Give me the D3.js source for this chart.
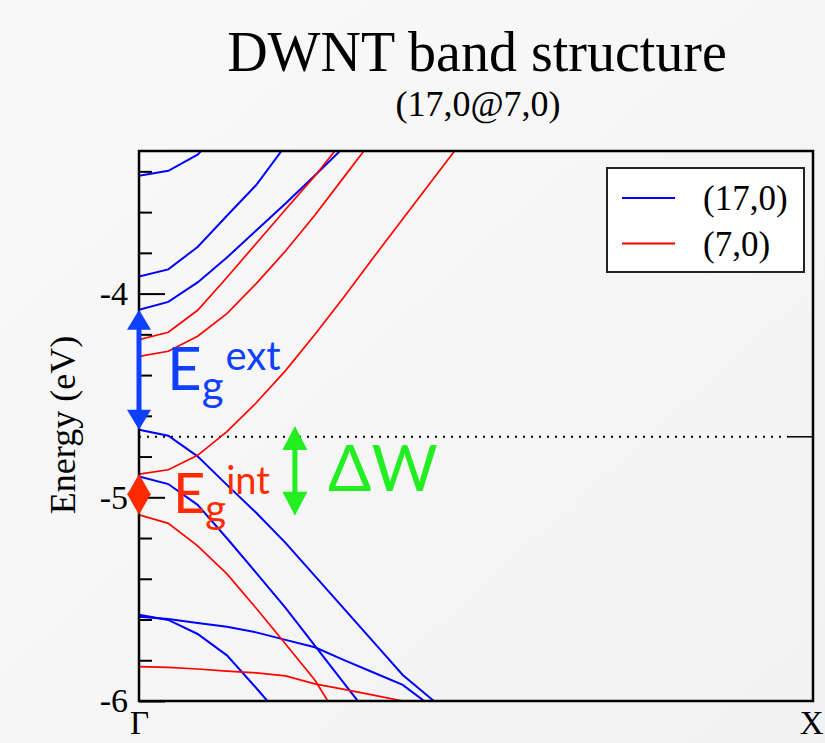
<!DOCTYPE html>
<html>
<head>
<meta charset="utf-8">
<script src="https://d3js.org/d3.v7.min.js"></script>
<style>
  html, body { margin: 0; padding: 0; }
  body { width: 825px; height: 743px; overflow: hidden; }
</style>
</head>
<body>
<div id="chart"></div>
<script>
// k-point index along Gamma -> X (24 points)
var kIndex = [0,1,2,3,4,5,6,7,8,9,10,11,12,13,14,15,16,17,18,19,20,21,22,23];
var kLabels = ["\u0393", "X"];
var seriesNames = ["(17,0)", "(7,0)"];
var seriesColours = ["#0000ff", "#ff0000"];

// outer tube (17,0) bands, eV, starting at Gamma
var bands17 = [
  [-3.422, -3.397, -3.318, -3.170],
  [-3.916, -3.881, -3.771, -3.618, -3.467, -3.273],
  [-4.079, -4.041, -3.945, -3.823, -3.690, -3.558, -3.420, -3.280],
  [-4.668, -4.698, -4.799, -4.939, -5.076, -5.224, -5.386, -5.548, -5.710, -5.872, -5.993, -6.100],
  [-4.898, -4.935, -5.037, -5.201, -5.371, -5.543, -5.728, -5.914, -6.098],
  [-5.577, -5.602, -5.671, -5.776, -5.936, -6.103],
  [-5.587, -5.597, -5.617, -5.636, -5.663, -5.700, -5.736, -5.799, -5.860, -5.921, -6.029]
];
// inner tube (7,0) bands
var bands7 = [
  [-4.226, -4.190, -4.082, -3.921, -3.754, -3.587, -3.423, -3.243],
  [-4.308, -4.283, -4.209, -4.098, -3.951, -3.791, -3.615, -3.427, -3.238],
  [-4.886, -4.865, -4.794, -4.678, -4.536, -4.378, -4.201, -4.015, -3.823, -3.634, -3.445, -3.256],
  [-5.086, -5.128, -5.238, -5.376, -5.545, -5.720, -5.897, -6.128],
  [-5.831, -5.835, -5.843, -5.853, -5.862, -5.877, -5.916, -5.943, -5.971, -6.000, -6.030]
];
var fermiLevel = -4.703;
var majorTicks = [-6, -5, -4];
var minorTicks = [-5.8, -5.6, -5.4, -5.2, -4.8, -4.6, -4.4, -4.2, -3.8, -3.6, -3.4];

// gap annotations: [k, Etop, Ebottom]
var gapExt = [0, -4.079, -4.668];
var gapInt = [0, -4.886, -5.086];
var deltaW = [5.32, -4.65, -5.09];

var width = 825, height = 743;
var margin = {top: 151, right: 12, bottom: 42, left: 139};
var widthG = width - margin.left - margin.right;
var heightG = height - margin.top - margin.bottom;

var svg = d3.select("#chart").append("svg")
  .attr("width", width)
  .attr("height", height)
  .style("font-family", "'Liberation Serif', 'Times New Roman', serif");

var defs = svg.append("defs");
var grad = defs.append("linearGradient")
  .attr("id", "bg")
  .attr("x1", "0").attr("y1", "0").attr("x2", "1").attr("y2", "1");
grad.append("stop").attr("offset", "0%").attr("stop-color", "#f9f9f9");
grad.append("stop").attr("offset", "100%").attr("stop-color", "#f2f2f2");

defs.append("clipPath").attr("id", "plotclip")
  .append("rect")
  .attr("width", widthG)
  .attr("height", heightG);

svg.append("rect")
  .attr("width", width)
  .attr("height", height)
  .attr("fill", "url(#bg)");

var g = svg.append("g")
  .attr("transform", "translate(" + margin.left + "," + margin.top + ")");

//scales
var x = d3.scaleLinear()
  .domain([0, d3.max(kIndex)])
  .range([0, widthG]);
var y = d3.scaleLinear()
  .domain([-6, -3.3])
  .range([heightG, 0]);

var line = d3.line()
  .x(function (d, i) { return x(kIndex[i]); })
  .y(function (d) { return y(d); });

//title
svg.append("text")
  .attr("x", 477)
  .attr("y", 71)
  .attr("text-anchor", "middle")
  .style("font-size", "56px")
  .text("DWNT band structure");
svg.append("text")
  .attr("x", 478)
  .attr("y", 116)
  .attr("text-anchor", "middle")
  .style("font-size", "36px")
  .text("(17,0@7,0)");

//fermi level
g.append("line")
  .attr("x1", 0).attr("x2", widthG - 25)
  .attr("y1", y(fermiLevel)).attr("y2", y(fermiLevel))
  .style("stroke", "#000")
  .style("stroke-width", "2px")
  .style("stroke-dasharray", "2,6");
g.append("line")
  .attr("x1", widthG - 25).attr("x2", widthG)
  .attr("y1", y(fermiLevel)).attr("y2", y(fermiLevel))
  .style("stroke", "#000")
  .style("stroke-width", "1.5px");

//bands
var bandsG = g.append("g").attr("clip-path", "url(#plotclip)");
bandsG.selectAll(".b17")
  .data(bands17)
  .enter()
  .append("path")
  .attr("class", "b17")
  .attr("d", line)
  .attr("fill", "none")
  .style("stroke", seriesColours[0])
  .style("stroke-width", "2px");
bandsG.selectAll(".b7")
  .data(bands7)
  .enter()
  .append("path")
  .attr("class", "b7")
  .attr("d", line)
  .attr("fill", "none")
  .style("stroke", seriesColours[1])
  .style("stroke-width", "1.7px");

//axes
var yMajor = d3.axisLeft(y)
  .tickValues(majorTicks)
  .tickSize(-26)
  .tickSizeOuter(0)
  .tickPadding(11)
  .tickFormat(function (d) { return String(d); });
var gy = g.append("g").call(yMajor);
gy.select(".domain").remove();
gy.selectAll(".tick line").style("stroke-width", "2px");
gy.selectAll(".tick text")
  .style("font-size", "34px")
  .style("font-family", "'Liberation Serif', serif")
  .attr("fill", "#000");

var yMinor = d3.axisLeft(y)
  .tickValues(minorTicks)
  .tickSize(-13)
  .tickSizeOuter(0)
  .tickFormat("");
var gym = g.append("g").call(yMinor);
gym.select(".domain").remove();
gym.selectAll(".tick line").style("stroke-width", "2px");

var xAxis = d3.axisBottom(x)
  .tickValues([0, d3.max(kIndex)])
  .tickSize(0)
  .tickPadding(10)
  .tickFormat(function (d, i) { return kLabels[i]; });
var gx = g.append("g")
  .attr("transform", "translate(0," + heightG + ")")
  .call(xAxis);
gx.select(".domain").remove();
gx.selectAll(".tick text")
  .style("font-size", "33px")
  .style("font-family", "'Liberation Serif', serif")
  .attr("fill", "#000");
// keep the X label inside the page
gx.selectAll(".tick text")
  .filter(function (d, i) { return i === 1; })
  .attr("text-anchor", "end")
  .attr("x", 10);

//frame
g.append("rect")
  .attr("width", widthG)
  .attr("height", heightG)
  .attr("fill", "none")
  .style("stroke", "#000")
  .style("stroke-width", "2.5px");

//y label
svg.append("text")
  .attr("transform", "translate(75,425) rotate(-90)")
  .attr("text-anchor", "middle")
  .style("font-size", "36px")
  .text("Energy (eV)");

//legend
var legend = svg.append("g").attr("transform", "translate(607,168)");
legend.append("rect")
  .attr("width", 197)
  .attr("height", 104)
  .attr("fill", "#fff")
  .style("stroke", "#222")
  .style("stroke-width", "2px");
var items = legend.selectAll(".item")
  .data(seriesNames)
  .enter()
  .append("g")
  .attr("transform", function (d, i) { return "translate(0," + (30 + i * 45.5) + ")"; });
items.append("line")
  .attr("x1", 15).attr("x2", 68)
  .style("stroke", function (d, i) { return seriesColours[i]; })
  .style("stroke-width", "2px");
items.append("text")
  .attr("x", 96)
  .attr("y", 12)
  .style("font-size", "35px")
  .text(function (d) { return d; });

//double-headed arrows
function dblArrow(sel, k, e1, e2, colour, head, headW, shaft) {
  var cx = x(k), ya = y(e1), yb = y(e2);
  var a = sel.append("g").attr("fill", colour);
  a.append("rect")
    .attr("x", cx - shaft / 2).attr("y", ya + head - 2)
    .attr("width", shaft).attr("height", Math.max(0, yb - ya - 2 * head + 4));
  a.append("path")
    .attr("d", "M" + cx + "," + ya + "L" + (cx + headW / 2) + "," + (ya + head) +
      "L" + (cx - headW / 2) + "," + (ya + head) + "Z");
  a.append("path")
    .attr("d", "M" + cx + "," + yb + "L" + (cx + headW / 2) + "," + (yb - head) +
      "L" + (cx - headW / 2) + "," + (yb - head) + "Z");
}
dblArrow(g, gapExt[0], gapExt[1], gapExt[2], "#1040ff", 20, 24, 5);
dblArrow(g, gapInt[0], gapInt[1], gapInt[2], "#ff2a00", 21, 24, 5);
dblArrow(g, deltaW[0], deltaW[1], deltaW[2], "#22ee22", 24, 25, 5);

//annotation labels
var sans = "Lato, 'Open Sans', sans-serif";
var ext = svg.append("text")
  .attr("x", 167).attr("y", 390)
  .style("font-family", sans)
  .attr("fill", "#1040ff");
ext.append("tspan").style("font-size", "60px").text("E");
ext.append("tspan").style("font-size", "42px").attr("dy", 11).text("g");
ext.append("tspan").style("font-size", "40px").attr("dy", -31).attr("dx", 2).text("ext");

var intl = svg.append("text")
  .attr("x", 173).attr("y", 513)
  .style("font-family", sans)
  .attr("fill", "#ff2a00");
intl.append("tspan").style("font-size", "56px").text("E");
intl.append("tspan").style("font-size", "40px").attr("dy", 10).text("g");
intl.append("tspan").style("font-size", "38px").attr("dy", -29).attr("dx", 0).text("int");

svg.append("text")
  .attr("x", 328).attr("y", 491)
  .style("font-family", sans)
  .style("font-size", "64px")
  .attr("fill", "#22ee22")
  .text("\u0394W");
</script>
</body>
</html>
